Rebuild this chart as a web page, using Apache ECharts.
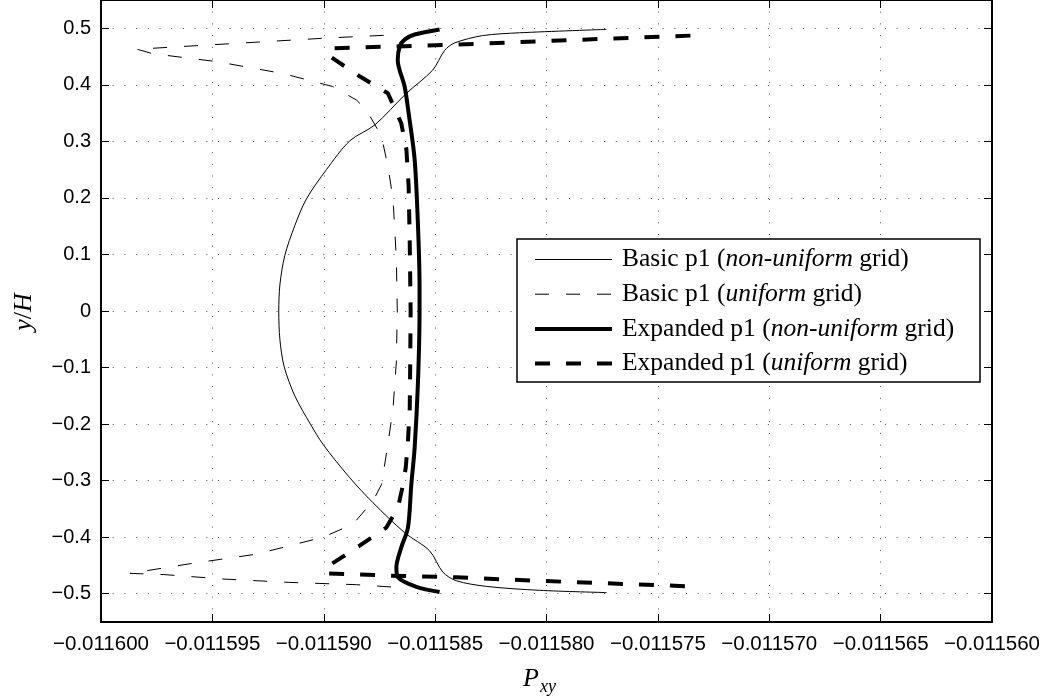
<!DOCTYPE html>
<html>
<head>
<meta charset="utf-8">
<script src="https://cdn.jsdelivr.net/npm/echarts@6/dist/echarts.min.js"></script>
<style>
html,body{margin:0;padding:0;background:#fff;}
#chart{width:1043px;height:698px;}
</style>
</head>
<body>
<div id="chart"></div>
<script>
// ---- data (x in units of Pxy, y = y/H) ----
const seriesNames = [
  'Basic p1 (non-uniform grid)',
  'Basic p1 (uniform grid)',
  'Expanded p1 (non-uniform grid)',
  'Expanded p1 (uniform grid)'
];

const basicNonUniformX = [-0.01157731,-0.01158121,-0.01158287,-0.01158413,-0.01158457,-0.01158511,-0.01158629,-0.01158771,-0.01158883,-0.01158988,-0.01159078,-0.01159130,-0.01159175,-0.01159197,-0.01159202,-0.01159197,-0.01159178,-0.01159130,-0.01159060,-0.01159003,-0.01158883,-0.01158779,-0.01158637,-0.01158525,-0.01158465,-0.01158405,-0.01158270,-0.01158031,-0.01157731];
const basicNonUniformY = [0.498,0.492,0.487,0.474,0.461,0.426,0.385,0.329,0.301,0.250,0.198,0.151,0.098,0.046,0.0,-0.050,-0.098,-0.150,-0.200,-0.236,-0.295,-0.339,-0.392,-0.424,-0.462,-0.477,-0.487,-0.494,-0.498];

const basicUniformX = [-0.01158731,-0.01158973,-0.01159408,-0.01159839,-0.01159767,-0.01159480,-0.01159184,-0.01158960,-0.01158853,-0.01158809,-0.01158741,-0.01158712,-0.01158689,-0.01158674,-0.01158670,-0.01158674,-0.01158689,-0.01158712,-0.01158741,-0.01158779,-0.01158869,-0.01159003,-0.01159302,-0.01159601,-0.01159870,-0.01159721,-0.01159452,-0.01159152,-0.01158853,-0.01158682];
const basicUniformY = [0.4875,0.483,0.473,0.463,0.455,0.441,0.420,0.397,0.373,0.356,0.309,0.256,0.198,0.092,0.0,-0.090,-0.172,-0.236,-0.307,-0.336,-0.377,-0.400,-0.430,-0.447,-0.464,-0.466,-0.474,-0.480,-0.484,-0.4885];

const expandedNonUniformX = [-0.01158480,-0.01158592,-0.01158637,-0.01158659,-0.01158668,-0.01158637,-0.01158619,-0.01158592,-0.01158577,-0.01158570,-0.01158570,-0.01158577,-0.01158592,-0.01158607,-0.01158622,-0.01158652,-0.01158674,-0.01158667,-0.01158584,-0.01158480];
const expandedNonUniformY = [0.498,0.489,0.480,0.468,0.444,0.397,0.350,0.268,0.151,0.045,0.0,-0.125,-0.242,-0.307,-0.383,-0.418,-0.453,-0.471,-0.488,-0.497];

const expandedUniformX = [-0.01157354,-0.01157942,-0.01158413,-0.01158969,-0.01158982,-0.01158839,-0.01158712,-0.01158652,-0.01158629,-0.01158619,-0.01158614,-0.01158610,-0.01158612,-0.01158614,-0.01158622,-0.01158632,-0.01158644,-0.01158667,-0.01158719,-0.01158839,-0.01158928,-0.01158988,-0.01158988,-0.01158704,-0.01158405,-0.01158046,-0.01157351];
const expandedUniformY = [0.487,0.4784,0.471,0.4645,0.453,0.415,0.385,0.332,0.286,0.221,0.121,0.0,-0.100,-0.172,-0.230,-0.277,-0.307,-0.348,-0.383,-0.415,-0.438,-0.453,-0.464,-0.468,-0.471,-0.477,-0.487];

const xTickMin = -0.0116, xTickMax = -0.01156, xTickStep = 0.000005;
const yMin = -0.55, yMax = 0.55;

// ---- build ----
function pairs(xs, ys){ return xs.map((x,i)=>[x, ys[i]]); }
const minus = s => s.replace('-', '\u2212');

const chart = echarts.init(document.getElementById('chart'), null, {renderer:'canvas'});
const sansFont = 'Liberation Sans';
const serifFont = 'Liberation Serif';
const dotted = {show:true, lineStyle:{color:'#555', width:1, type:[1,10.7]}};
const legendFontSize = 25.5;

const styles = [
  {width:1, type:'solid', smooth:0.3},
  {width:1, type:[14,17], smooth:false},
  {width:4, type:'solid', smooth:0.3},
  {width:4, type:[15,16], smooth:false}
];
const datas = [
  pairs(basicNonUniformX, basicNonUniformY),
  pairs(basicUniformX, basicUniformY),
  pairs(expandedNonUniformX, expandedNonUniformY),
  pairs(expandedUniformX, expandedUniformY)
];

const option = {
  backgroundColor:'#fff',
  animation:false,
  grid:{left:101, right:50, top:-4, bottom:76, containLabel:false},
  xAxis:[{
    type:'value', position:'bottom', min:xTickMin, max:xTickMax, interval:xTickStep,
    axisLine:{show:true, onZero:false, lineStyle:{color:'#000', width:2}},
    axisTick:{show:true, inside:true, length:8, lineStyle:{color:'#000', width:1}},
    axisLabel:{show:true, margin:12, color:'#000', fontFamily:sansFont, fontSize:20.5,
      formatter:v=>minus(v.toFixed(6))},
    splitLine:dotted
  },{
    type:'value', position:'top', min:xTickMin, max:xTickMax, interval:xTickStep,
    axisLine:{show:true, onZero:false, lineStyle:{color:'#000', width:2}},
    axisTick:{show:true, inside:true, length:8, lineStyle:{color:'#000', width:1}},
    axisLabel:{show:false}, splitLine:{show:false}
  }],
  yAxis:[{
    type:'value', position:'left', min:yMin, max:yMax, splitNumber:11,
    axisLine:{show:true, onZero:false, lineStyle:{color:'#000', width:2}},
    axisTick:{show:true, inside:true, length:8, lineStyle:{color:'#000', width:1}},
    axisLabel:{show:true, margin:10, color:'#000', fontFamily:sansFont, fontSize:20,
      showMinLabel:false, showMaxLabel:false,
      formatter:v=>{const r=Math.round(v*10)/10; return minus(String(r));}},
    splitLine:dotted
  },{
    type:'value', position:'right', min:yMin, max:yMax, splitNumber:11,
    axisLine:{show:true, onZero:false, lineStyle:{color:'#000', width:2}},
    axisTick:{show:true, inside:true, length:8, lineStyle:{color:'#000', width:1}},
    axisLabel:{show:false}, splitLine:{show:false}
  }],
  legend:{
    show:true, orient:'vertical', left:533, top:246.5, padding:0,
    itemWidth:77, itemHeight:20, itemGap:8.7, selectedMode:false,
    itemStyle:{color:'rgba(0,0,0,0)', borderColor:'rgba(0,0,0,0)', borderWidth:0, opacity:0},
    data:seriesNames.map((n,i)=>({
      name:n,
      itemStyle:{color:'rgba(0,0,0,0)', borderColor:'rgba(0,0,0,0)', borderWidth:0, opacity:0},
      lineStyle:{color:'#000', width:styles[i].width, type:styles[i].type, cap:'butt', opacity:1}
    })),
    textStyle:{color:'#000', fontFamily:serifFont, fontSize:legendFontSize, lineHeight:20, padding:[0,0,0,5],
      rich:{
        r:{fontFamily:serifFont, fontSize:legendFontSize, lineHeight:20, color:'#000'},
        i:{fontFamily:serifFont, fontSize:legendFontSize, lineHeight:20, fontStyle:'italic', color:'#000'}
      }},
    formatter:name=>{
      const m = name.match(/^(.*\()(\S+)( grid\))$/);
      return '{r|'+m[1]+'}{i|'+m[2]+'}{r|'+m[3]+'}';
    }
  },
  graphic:[
    {type:'rect', z:3, shape:{x:517, y:239, width:463, height:143},
     style:{fill:'#fff', stroke:'#000', lineWidth:1.5}},
    {type:'text', z:5, x:24, y:312, rotation:Math.PI/2,
     style:{text:'{i|y}{r|/}{i|H}', align:'center', verticalAlign:'middle',
       rich:{i:{fontFamily:serifFont, fontStyle:'italic', fontSize:26, fill:'#000'},
             r:{fontFamily:serifFont, fontSize:26, fill:'#000'}}}},
    {type:'text', z:5, x:523, y:679,
     style:{text:'P', fontFamily:serifFont, fontStyle:'italic', fontSize:26, fill:'#000', align:'left', verticalAlign:'middle'}},
    {type:'text', z:5, x:540, y:687,
     style:{text:'xy', fontFamily:serifFont, fontStyle:'italic', fontSize:18, fill:'#000', align:'left', verticalAlign:'middle'}}
  ],
  series: seriesNames.map((n,i)=>({
    name:n, type:'line', xAxisIndex:0, yAxisIndex:0,
    data:datas[i], showSymbol:false, symbol:'none', smooth:styles[i].smooth,
    clip:true,
    lineStyle:{color:'#000', width:styles[i].width, type:styles[i].type, cap:'butt', join:'round'},
    itemStyle:{color:'#000'},
    emphasis:{disabled:true}
  }))
};
chart.setOption(option);
</script>
</body>
</html>
